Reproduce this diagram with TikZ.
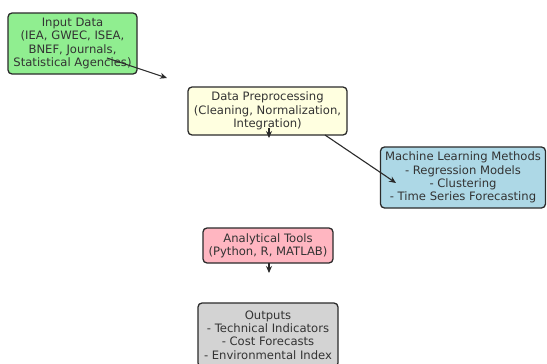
\documentclass[tikz,border=0pt]{standalone}
\usepackage{fontspec}
\setmainfont{DejaVu Sans}
\usetikzlibrary{arrows.meta}
\definecolor{boxline}{HTML}{2B2B2B}
\definecolor{txt}{HTML}{333333}
\definecolor{arrowc}{HTML}{2A2A2A}
\definecolor{cgreen}{HTML}{90EE90}
\definecolor{cyellow}{HTML}{FFFFE0}
\definecolor{cblue}{HTML}{ADD8E6}
\definecolor{cpink}{HTML}{FFB6C1}
\definecolor{cgray}{HTML}{D3D3D3}
\tikzset{
  box/.style={draw=boxline, line width=1.3pt, rounded corners=4pt, align=center,
    inner sep=0pt, font=\fontsize{11.6}{13.3}\selectfont, text=txt},
  conn/.style={draw=arrowc, line width=1.1pt, -{Stealth[length=7pt,width=6pt]}}
}
\begin{document}
\begin{tikzpicture}[x=1pt,y=-1pt]
\useasboundingbox (0,0) rectangle (547,364);
\clip (0,0) rectangle (547,364);
\fill[white] (0,0) rectangle (547,364);

\node[box, fill=cgreen, minimum width=129pt, minimum height=61pt] (inp) at (72.5,43.5)
  {Input Data\\(IEA, GWEC, ISEA,\\BNEF, Journals,\\Statistical Agencies)};
\node[box, fill=cyellow, minimum width=159pt, minimum height=48pt] (pre) at (267.5,111)
  {Data Preprocessing\\(Cleaning, Normalization,\\Integration)};
\node[box, fill=cblue, minimum width=165pt, minimum height=61pt] (ml) at (463,177.5)
  {Machine Learning Methods\\- Regression Models\\- Clustering\\- Time Series Forecasting};
\node[box, fill=cpink, minimum width=130pt, minimum height=35pt] (ana) at (268,245.5)
  {Analytical Tools\\(Python, R, MATLAB)};
\node[box, fill=cgray, minimum width=140pt, minimum height=64pt] (out) at (268,335)
  {Outputs\\- Technical Indicators\\- Cost Forecasts\\- Environmental Index};

\coordinate (a1s) at (107,58);
\coordinate (a1e) at (167,78);
\coordinate (a2s) at (325,135);
\coordinate (a2e) at (396,183);
\coordinate (a3s) at (269,128);
\coordinate (a3e) at (269,138);
\coordinate (a4s) at (269,263);
\coordinate (a4e) at (269,273);

\draw[conn] (a1s) -- (a1e);
\draw[conn] (a2s) -- (a2e);
\draw[conn] (a3s) -- (a3e);
\draw[conn] (a4s) -- (a4e);
\end{tikzpicture}
\end{document}
